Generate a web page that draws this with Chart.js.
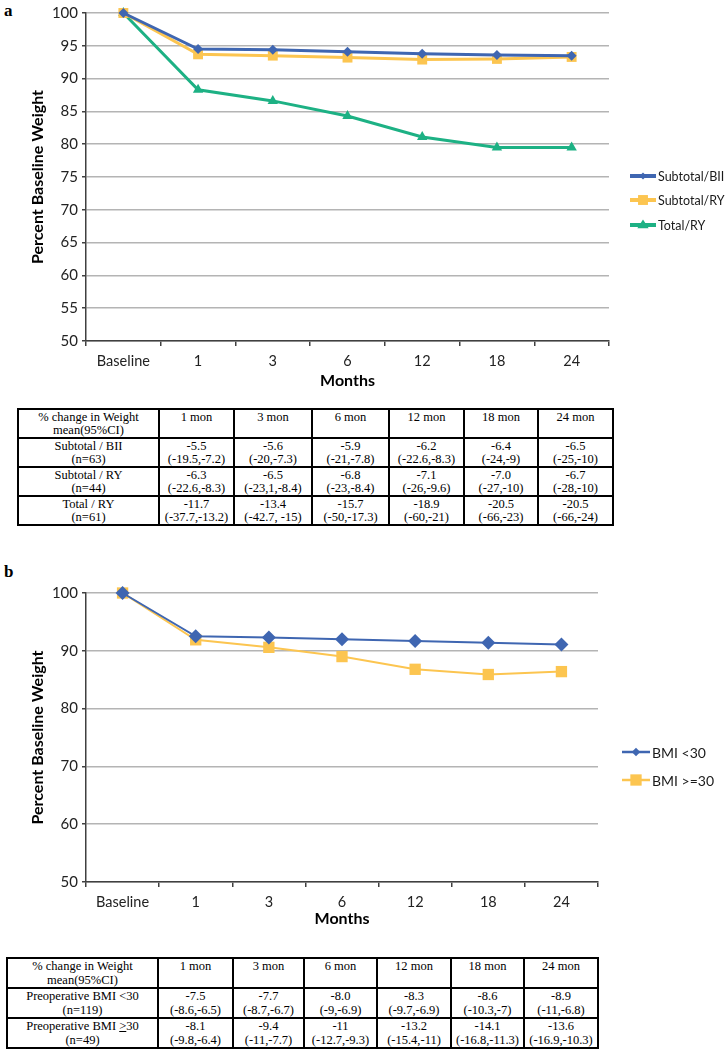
<!DOCTYPE html>
<html>
<head>
<meta charset="utf-8">
<script src="https://cdn.jsdelivr.net/npm/chart.js@4.4.1/dist/chart.umd.min.js"></script>
<style>
  body { margin: 0; background: #fff; width: 725px; height: 1050px; position: relative; overflow: hidden; }
  .panel { position: absolute; left: 0; width: 725px; }
  .letter { position: absolute; font: bold 17px "Liberation Serif", serif; color: #000; }
  table.tbl { position: absolute; border-collapse: collapse; table-layout: fixed;
    font: 12.5px/13px "Liberation Serif", serif; color: #000; }
  table.tbl td { border: 2px solid #000; text-align: center; vertical-align: top; padding: 1px 0 0 0; }
  #tableB { line-height: 13.5px; }
  #tableB td { padding-top: 1px; }
</style>
</head>
<body>
<div class="letter" style="left:4px; top:1px;">a</div>
<div class="panel" style="top:0; height:395px;"><canvas id="chartA"></canvas></div>
<table class="tbl" id="tableA" style="left:17px; top:408px; width:595px;"></table>

<div class="letter" style="left:4px; top:562px;">b</div>
<div class="panel" style="top:560px; height:380px;"><canvas id="chartB"></canvas></div>
<table class="tbl" id="tableB" style="left:6px; top:957px; width:591px;"></table>

<script>
// categories and series
const months = ["Baseline", "1", "3", "6", "12", "18", "24"];

const subtotalBII = [100, 94.5, 94.4, 94.1, 93.8, 93.6, 93.5];
const subtotalRY = [100, 93.7, 93.5, 93.2, 92.9, 93.0, 93.3];
const totalRY = [100, 88.3, 86.6, 84.3, 81.1, 79.5, 79.5];

const bmiUnder30 = [100, 92.5, 92.3, 92.0, 91.7, 91.4, 91.1];
const bmiOver30 = [100, 91.9, 90.6, 89.0, 86.8, 85.9, 86.4];

const yMin = 50, yMax = 100;
const yStepA = 5, yStepB = 10;

// table contents
const tableHeads = ["% change in Weight<br>mean(95%CI)", "1 mon", "3 mon", "6 mon", "12 mon", "18 mon", "24 mon"];
const rowsA = [
  ["Subtotal / BII<br>(n=63)", "-5.5<br>(-19.5,-7.2)", "-5.6<br>(-20,-7.3)", "-5.9<br>(-21,-7.8)", "-6.2<br>(-22.6,-8.3)", "-6.4<br>(-24,-9)", "-6.5<br>(-25,-10)"],
  ["Subtotal / RY<br>(n=44)", "-6.3<br>(-22.6,-8.3)", "-6.5<br>(-23,1,-8.4)", "-6.8<br>(-23,-8.4)", "-7.1<br>(-26,-9.6)", "-7.0<br>(-27,-10)", "-6.7<br>(-28,-10)"],
  ["Total / RY<br>(n=61)", "-11.7<br>(-37.7,-13.2)", "-13.4<br>(-42.7, -15)", "-15.7<br>(-50,-17.3)", "-18.9<br>(-60,-21)", "-20.5<br>(-66,-23)", "-20.5<br>(-66,-24)"]
];
const rowsB = [
  ["Preoperative BMI &lt;30<br>(n=119)", "-7.5<br>(-8.6,-6.5)", "-7.7<br>(-8.7,-6.7)", "-8.0<br>(-9,-6.9)", "-8.3<br>(-9.7,-6.9)", "-8.6<br>(-10.3,-7)", "-8.9<br>(-11,-6.8)"],
  ["Preoperative BMI <u style='text-decoration-thickness:1px'>&gt;</u>30<br>(n=49)", "-8.1<br>(-9.8,-6.4)", "-9.4<br>(-11,-7.7)", "-11<br>(-12.7,-9.3)", "-13.2<br>(-15.4,-11)", "-14.1<br>(-16.8,-11.3)", "-13.6<br>(-16.9,-10.3)"]
];
const colsA = [141, 75, 78, 77, 75, 74, 75];
const colsB = [151, 75, 71, 73, 74, 73, 74];

const BLUE = "#3f66b1";
const GOLD = "#fcc550";
const GREEN = "#1db184";
const FONT = "Lato, 'Open Sans', sans-serif";

function buildTable(id, cols, rows, rowH) {
  const t = document.getElementById(id);
  let html = "<colgroup>" + cols.map(w => `<col style="width:${w}px">`).join("") + "</colgroup>";
  [tableHeads].concat(rows).forEach(r => {
    html += `<tr style="height:${rowH}px">` + r.map(c => `<td>${c}</td>`).join("") + "</tr>";
  });
  t.innerHTML = html;
}
buildTable("tableA", colsA, rowsA, 27);
buildTable("tableB", colsB, rowsB, 30);

function drawMarker(ctx, style, x, y, r, color) {
  ctx.save();
  ctx.fillStyle = color;
  ctx.beginPath();
  if (style === "rect") {
    const s = r * Math.SQRT1_2;
    ctx.rect(x - s, y - s, 2 * s, 2 * s);
  } else if (style === "rectRot") {
    const s = r * Math.SQRT1_2;
    ctx.moveTo(x - s, y); ctx.lineTo(x, y - s); ctx.lineTo(x + s, y); ctx.lineTo(x, y + s);
  } else {
    const h = r * 0.9;
    ctx.moveTo(x, y - h); ctx.lineTo(x + h * 1.05, y + h * 0.6); ctx.lineTo(x - h * 1.05, y + h * 0.6);
  }
  ctx.closePath();
  ctx.fill();
  ctx.restore();
}

// legend drawn on the canvas: line swatch with its marker in the middle
const sideLegend = {
  id: "sideLegend",
  afterDraw(chart, args, opts) {
    const ctx = chart.ctx;
    chart.data.datasets.forEach((ds, i) => {
      const y = opts.ys[i];
      ctx.save();
      ctx.strokeStyle = ds.borderColor;
      ctx.lineWidth = opts.lineWidth;
      ctx.beginPath();
      ctx.moveTo(opts.x, y);
      ctx.lineTo(opts.x + opts.len, y);
      ctx.stroke();
      drawMarker(ctx, ds.pointStyle, opts.x + opts.len / 2, y, opts.markerSize[i], ds.borderColor);
      ctx.fillStyle = "#1a1a1a";
      ctx.font = opts.fontSize + "px " + FONT;
      ctx.textBaseline = "middle";
      ctx.fillText(ds.label, opts.x + opts.len + 2, y + 1);
      ctx.restore();
    });
  }
};

function makeOptions(step, axisW, axisH, padding, legend) {
  return {
    responsive: true,
    maintainAspectRatio: false,
    animation: false,
    layout: { padding: padding },
    plugins: {
      legend: { display: false },
      tooltip: { enabled: false },
      sideLegend: legend
    },
    scales: {
      x: {
        offset: true,
        grid: { offset: true, drawOnChartArea: false, drawTicks: true, tickLength: 5, color: "#404040", lineWidth: 1.5 },
        border: { color: "#404040", width: 1.5 },
        ticks: { color: "#222", padding: 7, font: { family: FONT, size: 14.5 } },
        title: { display: true, text: "Months", color: "#000", padding: 0, font: { family: FONT, size: 16, weight: "bold" } },
        afterFit(scale) { scale.height = axisH; }
      },
      y: {
        min: yMin,
        max: yMax,
        ticks: { stepSize: step, color: "#222", padding: 4, font: { family: FONT, size: 15 } },
        grid: { color: "#b4b4b4", lineWidth: 1.5, tickLength: 4, tickColor: "#404040" },
        border: { color: "#404040", width: 1.5 },
        title: { display: true, text: "Percent Baseline Weight", color: "#000", padding: 0, font: { family: FONT, size: 16, weight: "bold" } },
        afterFit(scale) { scale.width = axisW; }
      }
    }
  };
}

new Chart(document.getElementById("chartA"), {
  type: "line",
  data: {
    labels: months,
    datasets: [
      { label: "Subtotal/BII", data: subtotalBII, borderColor: BLUE, backgroundColor: BLUE, borderWidth: 3,
        pointStyle: "rectRot", pointRadius: 5, pointBorderWidth: 0, clip: false },
      { label: "Subtotal/RY", data: subtotalRY, borderColor: GOLD, backgroundColor: GOLD, borderWidth: 3,
        pointStyle: "rect", pointRadius: 7, pointBorderWidth: 0, clip: false },
      { label: "Total/RY", data: totalRY, borderColor: GREEN, backgroundColor: GREEN, borderWidth: 3,
        pointStyle: "triangle", pointRadius: 6, pointBorderWidth: 0, clip: false }
    ]
  },
  options: makeOptions(yStepA, 58, 49, { top: 9, left: 28, right: 116, bottom: 5 },
    { x: 630, len: 26, ys: [176, 200, 225], lineWidth: 4, markerSize: [5, 7, 6], fontSize: 12.5 }),
  plugins: [sideLegend]
});

new Chart(document.getElementById("chartB"), {
  type: "line",
  data: {
    labels: months,
    datasets: [
      { label: "BMI <30", data: bmiUnder30, borderColor: BLUE, backgroundColor: BLUE, borderWidth: 2,
        pointStyle: "rectRot", pointRadius: 7, pointBorderWidth: 0, clip: false },
      { label: "BMI >=30", data: bmiOver30, borderColor: GOLD, backgroundColor: GOLD, borderWidth: 2,
        pointStyle: "rect", pointRadius: 8, pointBorderWidth: 0, clip: false }
    ]
  },
  options: makeOptions(yStepB, 58, 46, { top: 33, left: 28, right: 127, bottom: 12 },
    { x: 622, len: 28, ys: [192, 220], lineWidth: 2.5, markerSize: [6, 8], fontSize: 14 }),
  plugins: [sideLegend]
});
</script>
</body>
</html>
